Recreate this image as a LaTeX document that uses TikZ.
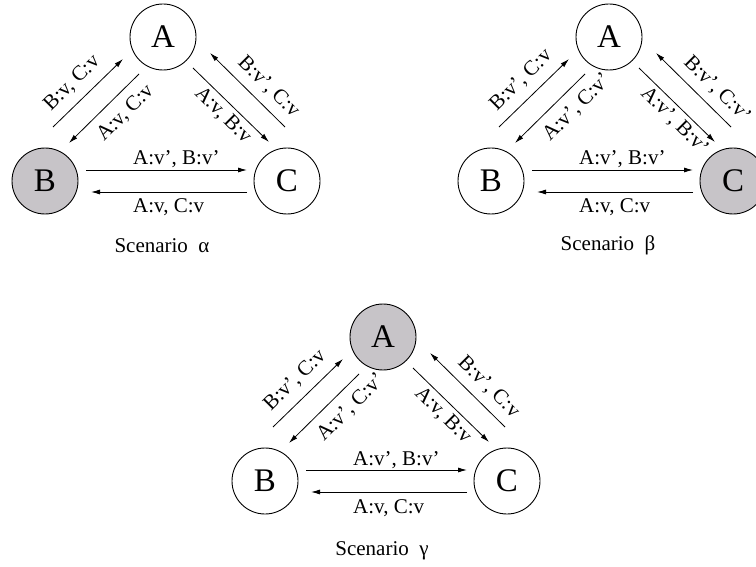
\documentclass[tikz,border=0pt]{standalone}
\usepackage{fontspec}
\setmainfont{Liberation Serif}
\usetikzlibrary{arrows.meta,calc}
\definecolor{shadegray}{RGB}{199,196,200}
\begin{document}
\begin{tikzpicture}[x=1pt,y=-1pt,
  agent/.style={circle,draw,line width=0.9pt,minimum size=66pt,inner sep=0pt,
                font=\fontsize{33}{33}\selectfont},
  active/.style={agent,fill=shadegray},
  msg/.style={line width=0.8pt,-{Latex[length=9pt,width=5pt]}},
  lbl/.style={inner sep=0pt,font=\fontsize{21}{21}\selectfont},
  uplbl/.style={lbl,rotate=45,anchor=base west},
  downlbl/.style={lbl,rotate=-45,anchor=base west},
  flatlbl/.style={lbl,anchor=base west},
  caption/.style={inner sep=0pt,font=\fontsize{21}{21}\selectfont}
]
\useasboundingbox (0,0) rectangle (756,567);

% ---------- Scenario alpha: B is the active process ----------
\node[agent]  (Aa) at (163,37) {A};
\node[active] (Ba) at ($(Aa)+(-118,144)$) {B};
\node[agent]  (Ca) at ($(Aa)+(124,144)$) {C};
\draw[msg] ($(Ba)+(8,-54)$)   -- ($(Aa)+(-40,22)$);
\draw[msg] ($(Aa)+(-24,37)$)  -- ($(Ba)+(24,-38)$);
\draw[msg] ($(Aa)+(30,31)$)   -- ($(Ca)+(-18,-39)$);
\draw[msg] ($(Ca)+(-2,-54)$)  -- ($(Aa)+(47,16)$);
\draw[msg] ($(Ba)+(41,-11)$)  -- ($(Ca)+(-40,-11)$);
\draw[msg] ($(Ca)+(-40,11)$)  -- ($(Ba)+(46,11)$);
\node[uplbl]   (la1) at ($(Aa)+(-112,75)$) {B:v, C:v};
\node[uplbl]   (la2) at ($(Aa)+(-59,105)$) {A:v, C:v};
\node[downlbl] (la3) at ($(Aa)+(31,57)$)   {A:v, B:v};
\node[downlbl] (la4) at ($(Aa)+(74,26)$)   {B:v', C:v};
\node[flatlbl] (la5) at ($(Aa)+(-30,128)$) {A:v', B:v'};
\node[flatlbl] (la6) at ($(Aa)+(-30,176)$) {A:v, C:v};
\node[caption] (capa) at ($(Aa)+(-1,209)$) {Scenario\ \ α};

% ---------- Scenario beta: C is the active process ----------
\node[agent]  (Ab) at (609,37) {A};
\node[agent]  (Bb) at ($(Ab)+(-118,144)$) {B};
\node[active] (Cb) at ($(Ab)+(124,144)$) {C};
\draw[msg] ($(Bb)+(8,-54)$)   -- ($(Ab)+(-40,22)$);
\draw[msg] ($(Ab)+(-24,37)$)  -- ($(Bb)+(24,-38)$);
\draw[msg] ($(Ab)+(30,31)$)   -- ($(Cb)+(-18,-39)$);
\draw[msg] ($(Cb)+(-2,-54)$)  -- ($(Ab)+(47,16)$);
\draw[msg] ($(Bb)+(41,-11)$)  -- ($(Cb)+(-40,-11)$);
\draw[msg] ($(Cb)+(-40,11)$)  -- ($(Bb)+(46,11)$);
\node[uplbl]   (lb1) at ($(Ab)+(-112,75)$) {B:v', C:v};
\node[uplbl]   (lb2) at ($(Ab)+(-59,105)$) {A:v', C:v'};
\node[downlbl] (lb3) at ($(Ab)+(31,57)$)   {A:v', B:v'};
\node[downlbl] (lb4) at ($(Ab)+(74,26)$)   {B:v', C:v'};
\node[flatlbl] (lb5) at ($(Ab)+(-30,128)$) {A:v', B:v'};
\node[flatlbl] (lb6) at ($(Ab)+(-30,176)$) {A:v, C:v};
\node[caption] (capb) at ($(Ab)+(-1,208)$) {Scenario\ \ β};

% ---------- Scenario gamma: A is the active process ----------
\node[active] (Ag) at (383,337) {A};
\node[agent]  (Bg) at ($(Ag)+(-118,144)$) {B};
\node[agent]  (Cg) at ($(Ag)+(124,144)$) {C};
\draw[msg] ($(Bg)+(8,-54)$)   -- ($(Ag)+(-40,22)$);
\draw[msg] ($(Ag)+(-24,37)$)  -- ($(Bg)+(24,-38)$);
\draw[msg] ($(Ag)+(30,31)$)   -- ($(Cg)+(-18,-39)$);
\draw[msg] ($(Cg)+(-2,-54)$)  -- ($(Ag)+(47,16)$);
\draw[msg] ($(Bg)+(41,-11)$)  -- ($(Cg)+(-40,-11)$);
\draw[msg] ($(Cg)+(-40,11)$)  -- ($(Bg)+(46,11)$);
\node[uplbl]   (lg1) at ($(Ag)+(-112,75)$) {B:v', C:v};
\node[uplbl]   (lg2) at ($(Ag)+(-59,105)$) {A:v', C:v'};
\node[downlbl] (lg3) at ($(Ag)+(31,57)$)   {A:v, B:v};
\node[downlbl] (lg4) at ($(Ag)+(74,26)$)   {B:v', C:v};
\node[flatlbl] (lg5) at ($(Ag)+(-30,128)$) {A:v', B:v'};
\node[flatlbl] (lg6) at ($(Ag)+(-30,176)$) {A:v, C:v};
\node[caption] (capg) at ($(Ag)+(-1,214)$) {Scenario\ \ γ};
\end{tikzpicture}
\end{document}
